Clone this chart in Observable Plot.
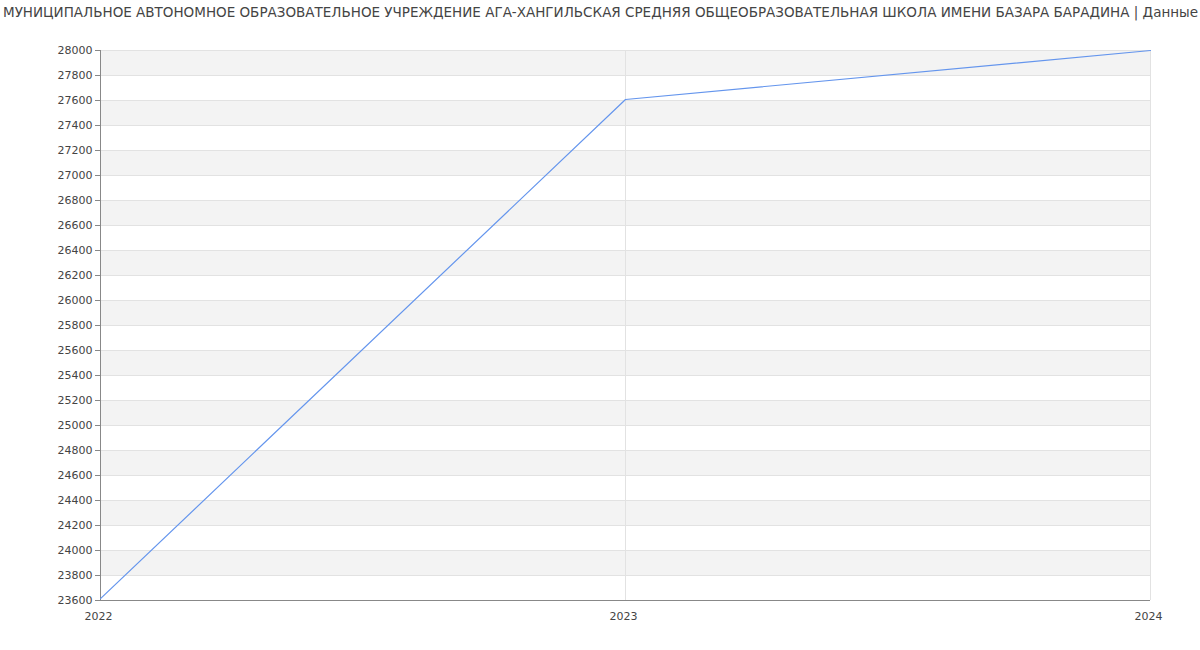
<!DOCTYPE html>
<html>
<head>
<meta charset="utf-8">
<script src="https://cdn.jsdelivr.net/npm/d3@7"></script>
<script src="https://cdn.jsdelivr.net/npm/@observablehq/plot@0.6"></script>
<style>
  html, body { margin: 0; padding: 0; background: #fff; }
  #title { position: relative; height: 30px; font-family: "DejaVu Sans", sans-serif; font-size: 13.5px; color: #444; white-space: nowrap; overflow: hidden; width: 1200px; }
  #title span { position: absolute; left: 3px; top: 4px; }
  #chart svg { display: block; }
</style>
</head>
<body>
<div id="title"><span>МУНИЦИПАЛЬНОЕ АВТОНОМНОЕ ОБРАЗОВАТЕЛЬНОЕ УЧРЕЖДЕНИЕ АГА-ХАНГИЛЬСКАЯ СРЕДНЯЯ ОБЩЕОБРАЗОВАТЕЛЬНАЯ ШКОЛА ИМЕНИ БАЗАРА БАРАДИНА | Данные</span></div>
<div id="chart"></div>
<script>
const years = [2022, 2023, 2024];
const values = [23615, 27608, 28000];
const yTicks = [23600, 23800, 24000, 24200, 24400, 24600, 24800, 25000, 25200, 25400, 25600, 25800, 26000, 26200, 26400, 26600, 26800, 27000, 27200, 27400, 27600, 27800, 28000];
const xTicks = [2022, 2023, 2024];

const data = years.map((y, i) => ({year: y, value: values[i]}));
const bands = yTicks.slice(0, -1)
  .map((v, i) => ({y1: v, y2: yTicks[i + 1], idx: i}))
  .filter(d => d.idx % 2 === 1);

const plot = Plot.plot({
  width: 1200,
  height: 620,
  marginTop: 20,
  marginBottom: 50,
  marginLeft: 100,
  marginRight: 50,
  style: {fontFamily: "DejaVu Sans, sans-serif", fontSize: "11px", color: "#444", background: "#fff"},
  x: {domain: [2022, 2024], ticks: xTicks, tickFormat: d => String(d), label: null, tickSize: 0, tickPadding: 12},
  y: {domain: [23600, 28000], ticks: yTicks, tickFormat: d => String(d), label: null, tickSize: 5, tickPadding: 3},
  marks: [
    Plot.rect(bands, {x1: () => 2022, x2: () => 2024, y1: "y1", y2: "y2", fill: "#f3f3f3"}),
    Plot.ruleY(yTicks, {stroke: "#e2e2e2", strokeWidth: 1}),
    Plot.ruleX(xTicks.slice(1), {stroke: "#e2e2e2", strokeWidth: 1}),
    Plot.axisY({ticks: yTicks, tickFormat: d => String(d), tickSize: 5, tickPadding: 3, label: null, stroke: "#888", fill: "#444"}),
    Plot.axisX({ticks: xTicks, tickFormat: d => String(d), tickSize: 0, tickPadding: 12, label: null, fill: "#444", dx: -2}),
    Plot.ruleX([2022], {stroke: "#888"}),
    Plot.ruleY([23600], {stroke: "#888"}),
    Plot.line(data, {x: "year", y: "value", stroke: "#6495ED", strokeWidth: 1.2})
  ]
});
document.getElementById("chart").appendChild(plot);
</script>
</body>
</html>
